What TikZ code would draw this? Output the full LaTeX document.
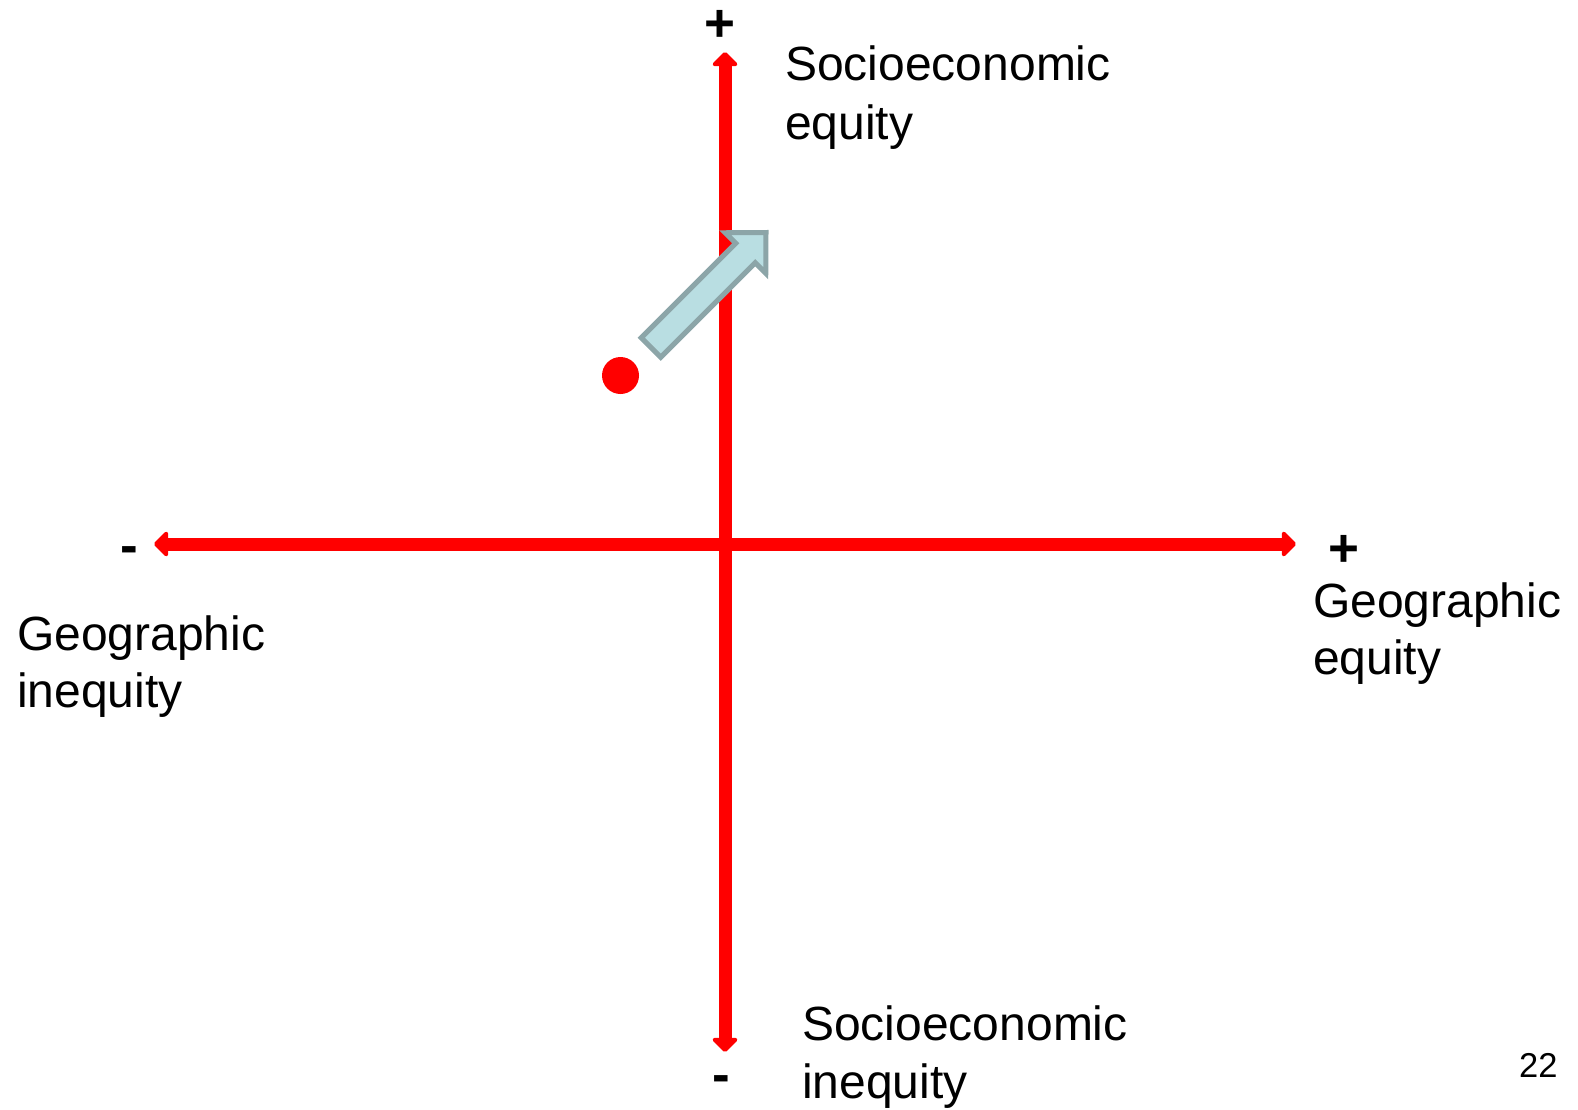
\documentclass[tikz,border=0pt]{standalone}
\usepackage{fontspec}
\setmainfont{Liberation Sans}
\usetikzlibrary{arrows.meta}
\definecolor{axisred}{RGB}{255,0,0}
\definecolor{arrowfill}{RGB}{185,222,226}
\definecolor{arrowline}{RGB}{140,165,168}
\tikzset{
  axis/.style={draw=axisred, line width=13pt, {Triangle[width=29pt,length=15pt,round]}-{Triangle[width=29pt,length=15pt,round]}},
  lbl/.style={anchor=base west, inner sep=0pt, font=\fontsize{48}{58}\selectfont},
  sign/.style={anchor=center, inner sep=0pt, font=\fontsize{53}{60}\selectfont\bfseries},
  pagenum/.style={anchor=base west, inner sep=0pt, font=\fontsize{34.5}{40}\selectfont},
  bigarrow/.style={fill=arrowfill, draw=arrowline, line width=5pt, line join=miter},
}
\begin{document}
\begin{tikzpicture}[x=1pt,y=-1pt]
\useasboundingbox (0,0) rectangle (1578,1109);
% axis end points
\coordinate (top) at (725,52);
\coordinate (bottom) at (725,1052);
\coordinate (left) at (154,544);
\coordinate (right) at (1296,544);
\draw[axis] (bottom) -- (top);
\draw[axis] (left) -- (right);
% red dot
\fill[axisred] (620.5,375.5) circle (18.5);
% block arrow
\coordinate (a1) at (641.25,337.75);
\coordinate (b1) at (735.75,243.25);
\coordinate (c1) at (725.25,232.75);
\coordinate (tip) at (766,232.5);
\coordinate (c2) at (765.75,273.25);
\coordinate (b2) at (755.25,262.75);
\coordinate (a2) at (660.75,357.25);
\draw[bigarrow] (a1) -- (b1) -- (c1) -- (tip) -- (c2) -- (b2) -- (a2) -- cycle;
% signs
\node[sign] (ptop) at (720,25.5) {+};
\node[sign] (mbottom) at (721,1084) {-};
\node[sign] (mleft) at (129,555) {-};
\node[sign] (pright) at (1344,550.5) {+};
% labels
\node[lbl] (se1) at (785,80.5) {Socioeconomic};
\node[lbl] (se2) at (785,139) {equity};
\node[lbl] (ge1) at (1313,617) {Geographic};
\node[lbl] (ge2) at (1313,674) {equity};
\node[lbl] (gi1) at (17,650) {Geographic};
\node[lbl] (gi2) at (17,707) {inequity};
\node[lbl] (si1) at (802,1040) {Socioeconomic};
\node[lbl] (si2) at (802,1098) {inequity};
\node[pagenum] (pg) at (1519,1077.5) {22};
\end{tikzpicture}
\end{document}
